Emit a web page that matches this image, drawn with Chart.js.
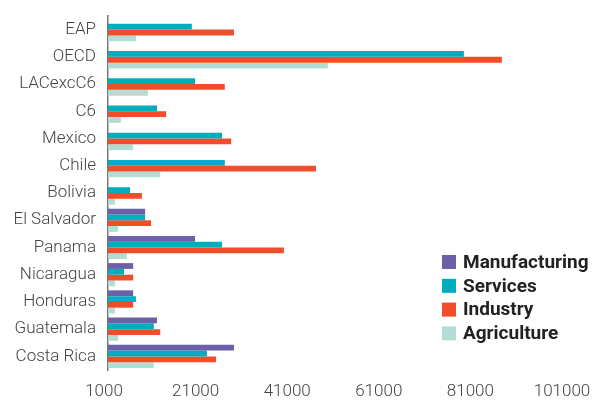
<!DOCTYPE html>
<html>
<head>
<meta charset="utf-8">
<script src="https://cdn.jsdelivr.net/npm/chart.js@4/dist/chart.umd.min.js"></script>
<style>
  html, body { margin: 0; padding: 0; background: #fff; }
  #wrap { width: 592px; height: 400px; }
</style>
</head>
<body>
<div id="wrap"><canvas id="chart" width="592" height="400"></canvas></div>
<script>
// カテゴリ
const countries = ["EAP", "OECD", "LACexcC6", "C6", "Mexico", "Chile", "Bolivia",
    "El Salvador", "Panama", "Nicaragua", "Honduras", "Guatemala", "Costa Rica"];

// 系列データ
const manufacturing = [null, null, null, null, null, null, null,
    9100, 20000, 6500, 6500, 11700, 28500];
const services = [19300, 78700, 20000, 11700, 25900, 26500, 5800,
    9100, 25900, 4500, 7100, 11000, 22600];
const industry = [28500, 87000, 26500, 13700, 27900, 46400, 8400,
    10400, 39400, 6500, 6500, 12400, 24600];
const agriculture = [7100, 49000, 9700, 3800, 6500, 12400, 2500,
    3200, 5100, 2500, 2500, 3200, 11000];

// 軸
const axisMin = 1000;
const axisMax = 101000;
const axisStep = 20000;

const seriesNames = ["Manufacturing", "Services", "Industry", "Agriculture"];
const seriesColors = ["#6e5fa9", "#00adbd", "#f04e2a", "#b3dcd4"];

// 凡例（チャート内の右下）
const boxLegend = {
    id: "boxLegend",
    afterDraw(chart) {
        const ctx = chart.ctx;
        ctx.save();
        ctx.font = "bold 19px Roboto";
        ctx.textBaseline = "middle";
        ctx.textAlign = "left";
        chart.data.datasets.forEach((ds, i) => {
            const y = 262 + i * 23.8;
            ctx.fillStyle = ds.backgroundColor;
            ctx.fillRect(442, y - 7, 14, 14);
            ctx.fillStyle = "#222";
            ctx.fillText(ds.label, 463, y + 1);
        });
        ctx.restore();
    }
};

const seriesData = [manufacturing, services, industry, agriculture];

new Chart(document.getElementById("chart"), {
    type: "bar",
    data: {
        labels: countries,
        datasets: seriesNames.map((name, i) => ({
            label: name,
            data: seriesData[i],
            backgroundColor: seriesColors[i],
            borderWidth: 0,
            categoryPercentage: 0.85,
            barPercentage: 1.0
        }))
    },
    options: {
        indexAxis: "y",
        responsive: false,
        animation: false,
        layout: { padding: { top: 16, right: 0, left: 0, bottom: 0 } },
        plugins: {
            legend: { display: false },
            tooltip: { enabled: false }
        },
        scales: {
            x: {
                min: axisMin,
                max: axisMax,
                grid: { display: false, drawTicks: false },
                border: { display: false },
                ticks: {
                    stepSize: axisStep,
                    padding: 12,
                    labelOffset: -4,
                    color: "#444",
                    font: { family: "Roboto", size: 17, weight: "300" },
                    callback: v => String(v)
                },
                afterFit: s => {
                    s.height = 30;
                    s.paddingLeft = 0;
                    s.paddingRight = 26;
                }
            },
            y: {
                grid: { display: false, drawTicks: false },
                border: { display: true, color: "#777", width: 1.5 },
                ticks: {
                    padding: 12,
                    color: "#444",
                    font: { family: "Roboto", size: 17, weight: "300" }
                },
                afterFit: s => {
                    s.width = 108;
                    s.paddingTop = 0;
                    s.paddingBottom = 0;
                }
            }
        }
    },
    plugins: [boxLegend]
});
</script>
</body>
</html>
